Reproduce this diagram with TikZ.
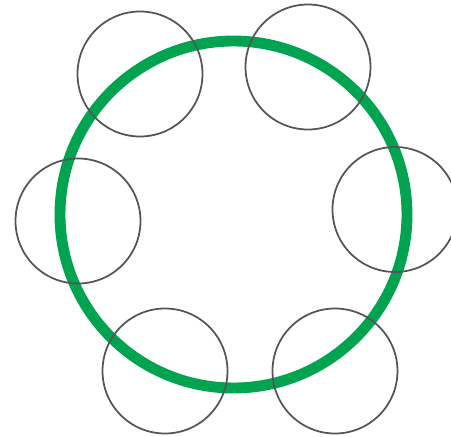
\documentclass[tikz,border=0pt]{standalone}
\usepackage{xcolor}
\usepackage{tikz}
\definecolor{ringgreen}{RGB}{0,163,80}
\definecolor{ringgray}{RGB}{85,85,85}

\begin{document}
\begin{tikzpicture}[x=0.02cm,y=-0.02cm]
\useasboundingbox(0,0)rectangle(451,437);
\draw[line width=6.2pt,ringgreen](233.5,214.5)circle[radius=173.5];
\foreach \x/\y in {140/74,308/67,78/221,395/209.5,165/371,335/371}
  \draw[line width=1pt,ringgray](\x,\y)circle[radius=62.5];
\end{tikzpicture}
\end{document}
